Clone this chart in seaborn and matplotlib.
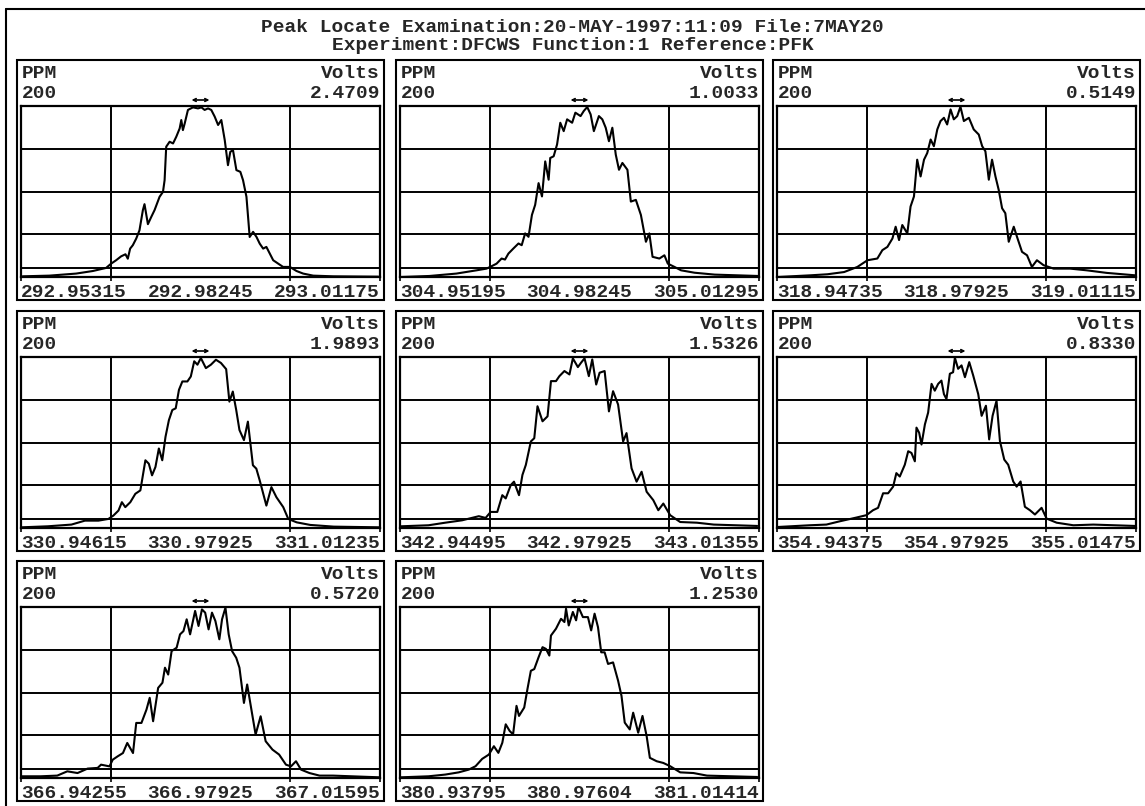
import matplotlib.pyplot as plt
import seaborn as sns
from matplotlib.patches import Rectangle
from matplotlib.lines import Line2D

title_1 = "Peak Locate Examination:20-MAY-1997:11:09 File:7MAY20"
title_2 = "Experiment:DFCWS Function:1 Reference:PFK"

ppm_window = "200"
volts = ["2.4709", "1.0033", "0.5149", "1.9893", "1.5326", "0.8330", "0.5720", "1.2530"]
mass_lo = ["292.95315", "304.95195", "318.94735", "330.94615", "342.94495", "354.94375", "366.94255", "380.93795"]
mass_mid = ["292.98245", "304.98245", "318.97925", "330.97925", "342.97925", "354.97925", "366.97925", "380.97604"]
mass_hi = ["293.01175", "305.01295", "319.01115", "331.01235", "343.01355", "355.01475", "367.01595", "381.01414"]

# (ppm offset from centre mass, % of full scale)
peak1 = [(-99.1, 0.4), (-84.2, 0.8), (-69.3, 2.0), (-60.0, 3.5), (-52.6, 5.3), (-49.8, 7.8), (-47.0, 9.8),
         (-44.2, 12.1), (-41.8, 13.3), (-40.5, 10.7), (-39.2, 16.6), (-37.7, 18.6), (-35.8, 22.5), (-34.0, 27.3),
         (-32.1, 39.1), (-31.2, 42.6), (-29.3, 30.9), (-27.4, 35.2), (-25.6, 39.1), (-22.8, 46.9), (-20.9, 49.8),
         (-20.0, 56.6), (-19.1, 76.2), (-17.2, 79.1), (-15.3, 78.1), (-13.5, 82.0), (-11.6, 86.9), (-10.7, 91.8),
         (-9.8, 85.9), (-8.8, 89.8), (-7.0, 97.7), (-4.2, 99.2), (-1.4, 98.6), (0.5, 99.2), (2.3, 97.7),
         (4.2, 98.6), (6.0, 97.7), (7.9, 93.8), (9.8, 88.9), (11.6, 91.8), (13.5, 80.1), (15.3, 65.4),
         (16.6, 73.2), (18.1, 74.2), (20.0, 62.5), (22.2, 61.5), (23.7, 56.6), (25.6, 46.9), (27.4, 23.4),
         (29.3, 26.4), (31.2, 23.4), (33.0, 19.5), (34.9, 16.6), (36.7, 17.6), (38.6, 13.7), (40.5, 9.8),
         (43.3, 7.8), (46.0, 5.9), (49.8, 5.9), (53.5, 3.5), (57.2, 2.0), (62.8, 0.8), (74.0, 0.4), (99.1, 0.2)]
peak2 = [(-99.4, 0.0), (-83.6, 0.6), (-68.6, 2.0), (-57.4, 3.9), (-51.8, 4.9), (-49.0, 6.3), (-46.2, 7.8),
         (-43.4, 10.8), (-41.5, 10.2), (-39.6, 13.7), (-36.8, 16.7), (-34.0, 19.6), (-32.2, 18.6), (-30.3, 25.5),
         (-28.4, 23.5), (-26.5, 36.3), (-24.7, 42.2), (-22.8, 54.9), (-20.9, 47.1), (-19.1, 67.6), (-17.2, 56.9),
         (-16.3, 69.6), (-14.4, 70.6), (-12.5, 77.5), (-10.7, 90.2), (-8.8, 85.3), (-6.9, 92.2), (-4.1, 90.2),
         (-2.3, 96.1), (0.6, 94.1), (2.4, 97.1), (4.3, 99.4), (6.2, 95.1), (8.0, 85.3), (10.8, 94.1),
         (12.7, 92.2), (14.6, 87.3), (16.4, 79.4), (18.3, 87.3), (20.2, 71.6), (22.0, 62.7), (23.9, 66.7),
         (26.7, 62.7), (28.6, 44.1), (31.4, 45.1), (34.2, 36.3), (37.0, 20.6), (38.9, 25.5), (40.7, 11.8),
         (44.5, 10.8), (47.3, 12.7), (49.2, 7.8), (52.9, 5.9), (56.6, 3.9), (64.1, 2.5), (75.3, 1.4), (99.6, 0.6)]
peak3 = [(-99.6, 0.0), (-81.1, 1.0), (-71.9, 1.6), (-62.6, 2.9), (-55.2, 5.9), (-49.6, 9.8), (-44.1, 10.8),
         (-41.3, 15.7), (-38.5, 17.6), (-35.7, 22.5), (-33.9, 29.4), (-32.0, 21.6), (-30.2, 30.4), (-27.4, 25.5),
         (-25.6, 41.2), (-23.7, 47.1), (-21.9, 68.6), (-20.0, 58.8), (-18.1, 68.6), (-16.3, 72.5), (-14.4, 80.4),
         (-12.6, 76.5), (-10.7, 86.3), (-8.9, 91.2), (-7.0, 93.1), (-5.2, 89.2), (-3.3, 98.0), (-1.5, 92.2),
         (0.4, 94.1), (2.2, 99.6), (4.1, 91.2), (6.9, 93.1), (9.6, 86.3), (12.4, 83.3), (14.3, 76.5),
         (16.1, 73.5), (18.0, 56.9), (19.8, 68.6), (21.7, 58.8), (23.5, 51.0), (25.4, 40.2), (27.2, 37.3),
         (29.1, 20.6), (31.9, 29.4), (33.7, 23.5), (36.5, 14.7), (39.3, 12.7), (42.0, 5.9), (44.8, 9.8),
         (48.5, 6.9), (54.1, 4.9), (63.3, 4.9), (72.6, 3.9), (83.7, 2.4), (99.4, 1.0)]
peak4 = [(-99.6, 0.4), (-85.0, 1.0), (-71.9, 2.0), (-64.4, 4.3), (-56.9, 4.3), (-51.3, 5.3), (-48.5, 7.3),
         (-45.7, 10.2), (-43.8, 15.1), (-41.9, 12.2), (-39.1, 15.1), (-36.3, 20.0), (-33.5, 22.0), (-30.7, 39.6),
         (-28.8, 37.6), (-27.0, 30.8), (-25.1, 35.7), (-23.2, 46.5), (-21.3, 39.6), (-19.5, 53.3), (-17.6, 63.1),
         (-15.7, 69.0), (-13.8, 70.0), (-12.0, 80.8), (-10.1, 85.7), (-7.3, 85.7), (-5.4, 88.6), (-3.5, 97.5),
         (-1.7, 95.5), (0.2, 99.4), (3.0, 93.5), (5.8, 95.5), (8.6, 98.4), (11.4, 96.5), (14.3, 92.9),
         (16.1, 73.9), (18.0, 79.8), (19.9, 69.0), (21.7, 57.3), (24.2, 51.4), (26.4, 62.2), (29.2, 36.7),
         (31.1, 34.7), (33.0, 27.8), (36.7, 13.1), (39.5, 23.9), (42.3, 18.0), (46.1, 12.2), (48.9, 5.3),
         (53.6, 3.3), (61.1, 1.8), (74.2, 0.8), (99.5, 0.4)]
peak5 = [(-99.4, 1.0), (-84.1, 1.6), (-74.8, 3.1), (-65.4, 4.5), (-56.1, 6.9), (-52.3, 5.9), (-49.5, 9.4),
         (-45.8, 9.4), (-43.0, 19.2), (-41.1, 17.3), (-38.3, 25.1), (-36.5, 27.1), (-33.7, 19.2), (-31.8, 31.0),
         (-29.9, 36.9), (-27.1, 50.6), (-25.2, 52.5), (-23.4, 71.2), (-20.6, 62.4), (-17.8, 65.3), (-15.9, 85.9),
         (-13.1, 85.9), (-11.2, 88.8), (-8.4, 91.8), (-5.6, 89.8), (-3.7, 99.2), (-0.9, 94.1), (0.9, 96.7),
         (2.8, 99.2), (5.2, 88.8), (7.1, 98.6), (9.3, 83.9), (11.2, 90.8), (14.0, 91.8), (16.4, 68.2),
         (18.7, 80.0), (21.5, 72.2), (24.3, 50.6), (26.2, 55.5), (29.0, 34.9), (31.8, 27.1), (34.6, 32.9),
         (37.4, 21.2), (41.1, 16.3), (43.9, 10.4), (46.7, 14.3), (50.5, 7.5), (56.1, 3.5), (65.4, 3.1),
         (74.8, 2.0), (99.0, 1.2)]
peak6 = [(-99.4, 0.6), (-81.8, 1.6), (-72.5, 2.0), (-65.1, 3.9), (-55.8, 6.1), (-50.2, 7.5), (-46.5, 10.4),
         (-43.7, 11.8), (-40.9, 20.3), (-38.1, 20.3), (-35.3, 24.2), (-33.5, 32.1), (-31.6, 30.1), (-28.8, 37.0),
         (-26.9, 44.9), (-25.1, 43.9), (-23.2, 39.0), (-22.3, 58.7), (-20.8, 55.7), (-19.5, 48.8), (-17.6, 60.6),
         (-15.8, 67.5), (-13.9, 84.3), (-12.1, 80.3), (-10.2, 84.3), (-8.4, 86.2), (-7.0, 78.3), (-5.6, 75.4),
         (-3.7, 90.2), (-1.9, 91.1), (-0.9, 99.6), (0.9, 93.1), (2.8, 95.1), (4.7, 88.2), (7.1, 97.0),
         (9.3, 89.2), (12.1, 78.3), (14.0, 65.6), (16.4, 71.5), (18.2, 51.8), (20.1, 65.6), (22.3, 74.4),
         (24.2, 50.8), (26.6, 40.0), (28.8, 37.0), (31.6, 27.2), (33.5, 24.2), (35.7, 27.2), (38.1, 12.4),
         (40.9, 10.4), (43.7, 7.9), (47.4, 11.8), (50.2, 5.5), (55.8, 3.1), (65.1, 1.6), (76.2, 2.0), (99.5, 1.2)]
peak7 = [(-99.4, 1.0), (-89.1, 1.0), (-79.8, 1.4), (-74.2, 3.9), (-68.5, 2.9), (-62.9, 5.5), (-57.3, 5.9),
         (-55.4, 7.8), (-50.7, 6.8), (-48.9, 10.7), (-46.1, 12.7), (-43.2, 14.6), (-40.8, 20.5), (-37.6, 14.6),
         (-35.8, 32.2), (-32.9, 32.2), (-30.1, 40.0), (-28.3, 46.9), (-26.4, 33.2), (-23.6, 52.7), (-21.2, 55.7),
         (-19.8, 64.5), (-18.0, 60.5), (-16.1, 74.2), (-13.3, 76.2), (-11.4, 84.0), (-9.5, 85.9), (-7.7, 92.8),
         (-5.8, 84.0), (-3.0, 97.7), (-1.1, 88.9), (0.8, 98.6), (2.6, 96.7), (4.5, 86.9), (6.4, 96.7),
         (8.3, 91.8), (10.5, 81.1), (12.0, 92.8), (13.9, 99.6), (15.7, 84.0), (17.6, 74.2), (19.9, 70.3),
         (21.7, 64.5), (24.2, 43.9), (26.0, 54.7), (28.5, 39.1), (30.7, 25.4), (33.5, 36.1), (36.3, 21.5),
         (40.1, 16.6), (43.8, 13.7), (47.6, 7.8), (50.4, 6.8), (53.2, 9.8), (56.0, 4.9), (60.7, 2.9),
         (66.3, 1.4), (73.8, 1.4), (99.7, 0.4)]
peak8 = [(-99.4, 0.4), (-84.1, 1.0), (-74.8, 2.0), (-67.3, 3.3), (-61.7, 4.9), (-57.9, 6.9), (-54.2, 11.2),
         (-50.5, 13.7), (-47.7, 18.6), (-45.2, 14.7), (-43.0, 20.6), (-41.1, 31.4), (-38.9, 27.5), (-37.0, 25.5),
         (-35.1, 42.2), (-33.7, 36.3), (-30.8, 41.2), (-29.0, 52.0), (-27.1, 62.7), (-25.2, 63.7), (-22.8, 70.6),
         (-20.6, 76.5), (-18.7, 75.5), (-16.8, 71.6), (-15.9, 83.3), (-13.1, 87.3), (-10.3, 93.1), (-8.4, 91.2),
         (-7.5, 99.0), (-6.0, 89.2), (-3.7, 97.1), (-1.9, 92.2), (-0.6, 100.0), (1.9, 94.1), (4.7, 94.1),
         (6.5, 86.3), (8.4, 96.1), (10.3, 88.2), (12.1, 73.5), (14.0, 73.5), (15.9, 66.7), (18.7, 67.6),
         (21.5, 56.9), (23.4, 48.0), (25.2, 32.4), (28.0, 28.4), (29.9, 38.2), (32.7, 26.5), (35.1, 36.3),
         (37.4, 24.5), (39.2, 11.8), (43.0, 9.8), (46.7, 8.8), (50.5, 6.9), (56.1, 3.3), (63.5, 2.9),
         (71.0, 1.4), (99.0, 0.6)]
peaks = [peak1, peak2, peak3, peak4, peak5, peak6, peak7, peak8]

W, H = 1145, 806
sns.set_style("white")
plt.rcParams["font.family"] = ["Liberation Mono", "DejaVu Sans Mono"]
plt.rcParams["font.weight"] = "bold"
FS = 14

fig = plt.figure(figsize=(W / 100, H / 100), dpi=100)


def fx(x):
    return x / W


def fy(y):
    return 1 - y / H


# outer frame (only top and left edges are on the page)
fig.add_artist(Line2D([fx(6), 1], [fy(9), fy(9)], transform=fig.transFigure, color="black", lw=1.5))
fig.add_artist(Line2D([fx(6), fx(6)], [fy(9), 0], transform=fig.transFigure, color="black", lw=1.5))

fig.text(0.5, fy(32), title_1, ha="center", va="baseline", fontsize=FS)
fig.text(0.5, fy(50), title_2, ha="center", va="baseline", fontsize=FS)

cols_x = [17, 396, 773]
rows_y = [60, 311, 561]
box_w, box_h = 367, 240

for i, pk in enumerate(peaks):
    r, c = divmod(i, 3)
    bx, by = cols_x[c], rows_y[r]
    fig.add_artist(Rectangle((fx(bx), fy(by + box_h)), box_w / W, box_h / H,
                             transform=fig.transFigure, fill=False, ec="black", lw=1.5))
    px0, px1 = bx + 4, bx + box_w - 4
    py0, py1 = by + 46, by + 217
    ph = py1 - py0
    ax = fig.add_axes([fx(px0), fy(py1), (px1 - px0) / W, ph / H])

    x = [p[0] for p in pk]
    y = [p[1] for p in pk]
    sns.lineplot(x=x, y=y, ax=ax, color="black", lw=1.5)
    ax.set_xlim(-100, 100)
    ax.set_ylim(0, 100)

    for g in [-50, 50]:
        ax.axvline(g, color="black", lw=1.4)
    for g in [25, 50, 75, 5.3]:
        ax.axhline(g, color="black", lw=1.4)
    for s in ax.spines.values():
        s.set_linewidth(1.6)
        s.set_color("black")
    ax.set_yticks([])
    ax.set_xticks([-100, -50, 50, 100])
    ax.set_xticklabels([])
    ax.tick_params(axis="x", length=3, width=1.2, direction="out", color="black", bottom=True)
    ax.set_xlabel("")
    ax.set_ylabel("")

    tr = ax.get_xaxis_transform()
    ax.text(-100, -20 / ph, mass_lo[i], ha="left", va="baseline", fontsize=FS, transform=tr)
    ax.text(0, -20 / ph, mass_mid[i], ha="center", va="baseline", fontsize=FS, transform=tr)
    ax.text(100, -20 / ph, mass_hi[i], ha="right", va="baseline", fontsize=FS, transform=tr)

    ax.text(-99.5, 1 + 28 / ph, "PPM", ha="left", va="baseline", fontsize=FS, transform=tr)
    ax.text(-99.5, 1 + 8 / ph, ppm_window, ha="left", va="baseline", fontsize=FS, transform=tr)
    ax.text(100, 1 + 28 / ph, "Volts", ha="right", va="baseline", fontsize=FS, transform=tr)
    ax.text(100, 1 + 8 / ph, volts[i], ha="right", va="baseline", fontsize=FS, transform=tr)

    ax.annotate("", xy=(-5, 1 + 6 / ph), xytext=(5, 1 + 6 / ph), xycoords=tr, textcoords=tr,
                arrowprops=dict(arrowstyle="<->", color="black", lw=1.2, mutation_scale=5,
                                shrinkA=0, shrinkB=0), annotation_clip=False)

fig.savefig("out.png", dpi=100)
